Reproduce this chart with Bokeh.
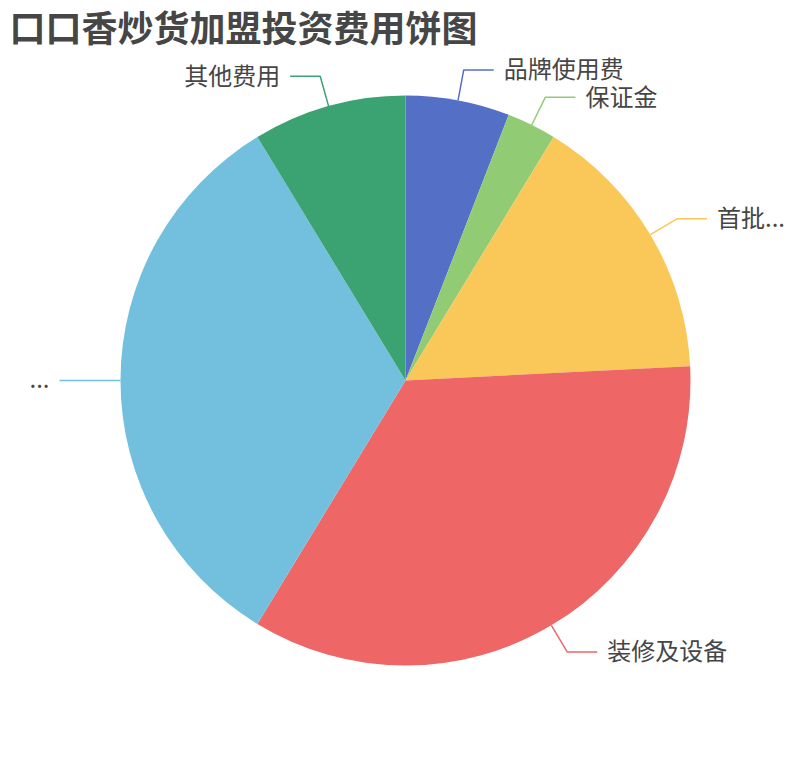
import math

from bokeh.core.properties import value
from bokeh.embed import file_html
from bokeh.models import ColumnDataSource, Range1d
from bokeh.plotting import figure
from bokeh.resources import INLINE

# data (share of total cost, %)
categories = ["品牌使用费", "保证金", "首批进货", "装修及设备", "店面租金", "其他费用"]
display_labels = ["品牌使用费", "保证金", "首批...", "装修及设备", "...", "其他费用"]
values = [5.9, 2.8, 15.5, 34.5, 32.6, 8.7]
colors = ["#5470c6", "#91cc75", "#fac858", "#ee6666", "#73c0de", "#3ba272"]

TITLE = "口口香炒货加盟投资费用饼图"
FONT = "Noto Sans CJK SC"

W, H = 794, 744
CX, CY, R = 405, H - 380, 285  # pie centre / radius in pixel units
LEN1, LEN2, GAP = 31, 30, 10  # label line segments

total = float(sum(values))
starts, ends = [], []
acc = 0.0
for v in values:
    starts.append(math.pi / 2 - 2 * math.pi * acc / total)
    acc += v
    ends.append(math.pi / 2 - 2 * math.pi * acc / total)

src = ColumnDataSource(dict(
    cat=categories, val=values, color=colors, start=starts, end=ends,
))

# label lines + label positions
xs, ys, lx, ly, align = [], [], [], [], []
for s, e in zip(starts, ends):
    mid = (s + e) / 2
    c, sn = math.cos(mid), math.sin(mid)
    x0, y0 = CX + R * c, CY + R * sn
    x1, y1 = CX + (R + LEN1) * c, CY + (R + LEN1) * sn
    side = 1 if c >= 0 else -1
    x2 = x1 + side * LEN2
    xs.append([x0, x1, x2])
    ys.append([y0, y1, y1])
    lx.append(x2 + side * GAP)
    ly.append(y1 + 2)
    align.append("left" if side > 0 else "right")

lab_src = ColumnDataSource(dict(
    xs=xs, ys=ys, x=lx, y=ly, text=display_labels, align=align, color=colors,
))

p = figure(
    width=W,
    height=H,
    x_range=Range1d(0, W),
    y_range=Range1d(0, H),
    output_backend="svg",
    toolbar_location=None,
    x_axis_location=None,
    y_axis_location=None,
    min_border=0,
)
p.grid.visible = False
p.outline_line_color = None
p.background_fill_color = "white"
p.border_fill_color = "white"

p.wedge(
    x=CX, y=CY, radius=R,
    start_angle="start", end_angle="end", direction="clock",
    fill_color="color", line_color=None, source=src,
)

p.multi_line(xs="xs", ys="ys", line_color="color", line_width=1.5, source=lab_src)

p.text(
    x="x", y="y", text="text", text_align="align", text_baseline="middle",
    text_font=value(FONT), text_font_size="24px", text_color="#464646",
    source=lab_src,
)

# title
p.text(
    x=[9], y=[H - 25], text=[TITLE], text_align="left", text_baseline="middle",
    text_font=value(FONT), text_font_size="36px", text_font_style="bold",
    text_color="#464646",
)

open("out.html", "w").write(file_html(p, INLINE))
